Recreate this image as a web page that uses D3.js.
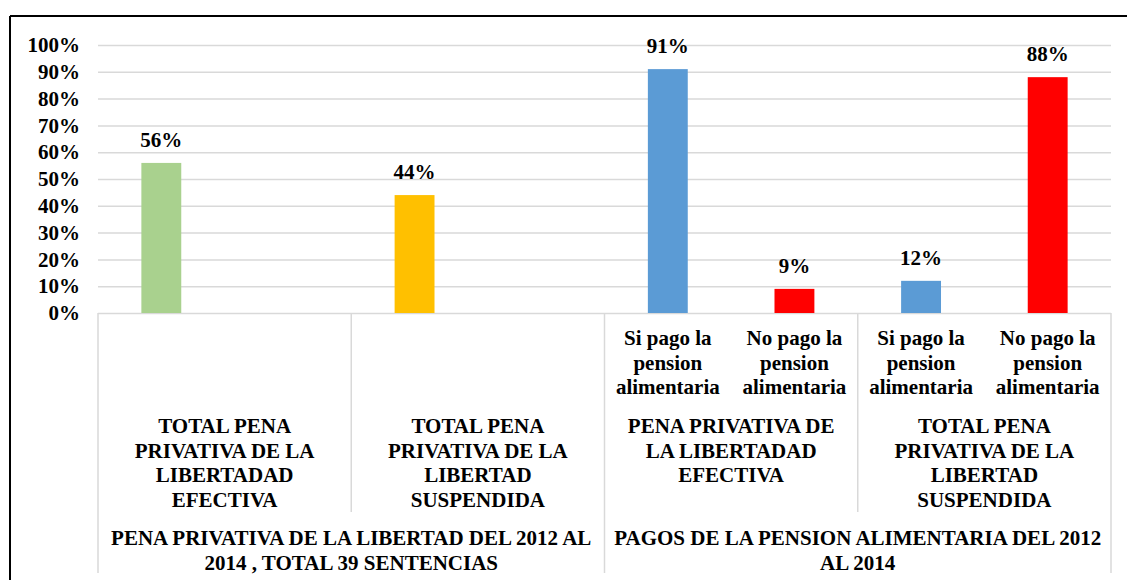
<!DOCTYPE html>
<html>
<head>
<meta charset="utf-8">
<script src="https://cdn.jsdelivr.net/npm/d3@7"></script>
<style>
  body { margin: 0; background: #fff; }
</style>
</head>
<body>
<div id="chart-area"></div>
<script>
// values per slot (8 slots, 2 per subgroup), null = empty slot
const values = [0.56, null, 0.44, null, 0.91, 0.09, 0.12, 0.88];
const barColors = ['#a9d18e', null, '#ffc000', null, '#5b9bd5', '#ff0000', '#5b9bd5', '#ff0000'];
const categoryLabels = [
  [], [], [], [],
  ['Si pago la', 'pension', 'alimentaria'],
  ['No pago la', 'pension', 'alimentaria'],
  ['Si pago la', 'pension', 'alimentaria'],
  ['No pago la', 'pension', 'alimentaria'],
];
const subgroupLabels = [
  ['TOTAL PENA', 'PRIVATIVA DE LA', 'LIBERTADAD', 'EFECTIVA'],
  ['TOTAL PENA', 'PRIVATIVA DE LA', 'LIBERTAD', 'SUSPENDIDA'],
  ['PENA PRIVATIVA DE', 'LA LIBERTADAD', 'EFECTIVA'],
  ['TOTAL PENA', 'PRIVATIVA DE LA', 'LIBERTAD', 'SUSPENDIDA'],
];
const groupLabels = [
  ['PENA PRIVATIVA DE LA LIBERTAD DEL 2012 AL', '2014 , TOTAL 39 SENTENCIAS'],
  ['PAGOS DE LA PENSION ALIMENTARIA DEL 2012', 'AL 2014'],
];
const tickValues = [0, 0.1, 0.2, 0.3, 0.4, 0.5, 0.6, 0.7, 0.8, 0.9, 1.0];

(() => {
  const widthSvg = 1127;
  const heightSvg = 580;
  const plot = { left: 98, right: 1111, top: 45, bottom: 313 };
  const fontSize = 21;
  const fontFamily = "'Liberation Serif', 'Times New Roman', Tinos, 'DejaVu Serif', serif";
  const lineH = 24.5;
  const gridColor = '#d9d9d9';

  const svg = d3.select('#chart-area').append('svg')
    .attr('width', widthSvg)
    .attr('height', heightSvg)
    .attr('font-family', fontFamily)
    .attr('font-weight', 'bold');

  const scaleX = d3.scaleBand()
    .domain(d3.range(values.length))
    .range([plot.left, plot.right])
    .padding(0);

  const scaleY = d3.scaleLinear()
    .domain([0, 1])
    .range([plot.bottom, plot.top]);

  // outer frame (top + left only visible)
  svg.append('line')
    .attr('x1', 10).attr('x2', widthSvg).attr('y1', 16).attr('y2', 16)
    .attr('stroke', '#000').attr('stroke-width', 2);
  svg.append('line')
    .attr('x1', 10).attr('x2', 10).attr('y1', 16).attr('y2', heightSvg)
    .attr('stroke', '#000').attr('stroke-width', 2);

  // gridlines
  const grid = svg.append('g')
    .attr('transform', `translate(${plot.left}, 0)`)
    .call(d3.axisLeft(scaleY).tickValues(tickValues).tickSize(-(plot.right - plot.left)).tickFormat(''));
  grid.select('.domain').remove();
  grid.selectAll('line').attr('stroke', gridColor).attr('stroke-width', 1.5);

  // y tick labels
  const axisY = svg.append('g')
    .attr('transform', `translate(${plot.left}, 0)`)
    .call(d3.axisLeft(scaleY).tickValues(tickValues).tickSize(0).tickPadding(18).tickFormat(d3.format('.0%')));
  axisY.select('.domain').remove();
  axisY.attr('font-family', fontFamily).attr('font-size', fontSize);
  axisY.selectAll('text').attr('fill', '#000');

  // category separators
  const sepLong = [0, 4, 8];
  const sepShort = [2, 6];
  const edgeX = i => i >= values.length ? plot.right : scaleX(i);
  sepLong.forEach(i => {
    svg.append('line')
      .attr('x1', edgeX(i)).attr('x2', edgeX(i))
      .attr('y1', plot.bottom).attr('y2', 573)
      .attr('stroke', gridColor).attr('stroke-width', 1.5);
  });
  sepShort.forEach(i => {
    svg.append('line')
      .attr('x1', edgeX(i)).attr('x2', edgeX(i))
      .attr('y1', plot.bottom).attr('y2', 512)
      .attr('stroke', gridColor).attr('stroke-width', 1.5);
  });

  // bars
  const barW = scaleX.bandwidth() * 0.315;
  const data = values.map((v, i) => ({ i, v, c: barColors[i] })).filter(d => d.v !== null);

  svg.selectAll('rect.bar')
    .data(data)
    .enter()
    .append('rect')
      .attr('class', 'bar')
      .attr('x', d => scaleX(d.i) + (scaleX.bandwidth() - barW) / 2)
      .attr('y', d => scaleY(d.v))
      .attr('width', barW)
      .attr('height', d => plot.bottom - scaleY(d.v))
      .attr('fill', d => d.c);

  svg.selectAll('text.val')
    .data(data)
    .enter()
    .append('text')
      .attr('class', 'val')
      .attr('x', d => scaleX(d.i) + scaleX.bandwidth() / 2)
      .attr('y', d => scaleY(d.v) - 16)
      .attr('text-anchor', 'middle')
      .attr('font-size', fontSize)
      .text(d => d3.format('.0%')(d.v));

  const multiline = (cx, y0, lines) => {
    const t = svg.append('text')
      .attr('text-anchor', 'middle')
      .attr('font-size', fontSize);
    lines.forEach((ln, k) => {
      t.append('tspan').attr('x', cx).attr('y', y0 + k * lineH).text(ln);
    });
  };

  // level 1: category labels
  categoryLabels.forEach((lines, i) => {
    multiline(scaleX(i) + scaleX.bandwidth() / 2, 345, lines);
  });

  // level 2: subgroup labels
  subgroupLabels.forEach((lines, g) => {
    const cx = (edgeX(g * 2) + edgeX(g * 2 + 2)) / 2;
    multiline(cx, 433, lines);
  });

  // level 3: group labels
  groupLabels.forEach((lines, g) => {
    const cx = (edgeX(g * 4) + edgeX(g * 4 + 4)) / 2;
    multiline(cx, 545, lines);
  });

})();
</script>
</body>
</html>
